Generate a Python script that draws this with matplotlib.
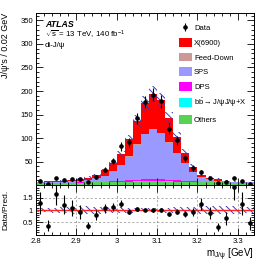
import numpy as np
import matplotlib
matplotlib.use('Agg')
from matplotlib import pyplot as plt
from matplotlib.patches import Patch
from matplotlib.ticker import MultipleLocator, FuncFormatter

plt.rcParams['font.family'] = ['Liberation Sans', 'DejaVu Sans']
plt.rcParams['mathtext.fontset'] = 'custom'
plt.rcParams['mathtext.rm'] = 'Liberation Sans'
plt.rcParams['mathtext.it'] = 'Liberation Sans:italic'
plt.rcParams['hatch.linewidth'] = 0.7
plt.rcParams['hatch.color'] = '#3a3ab8'

# bin centres of the J/psi mass histogram (0.02 GeV bins)
mass = np.array([2.81, 2.83, 2.85, 2.87, 2.89, 2.91, 2.93, 2.95, 2.97, 2.99,
                 3.01, 3.03, 3.05, 3.07, 3.09, 3.11, 3.13, 3.15, 3.17, 3.19,
                 3.21, 3.23, 3.25, 3.27, 3.29, 3.31, 3.33])
data = np.array([9, 3, 14, 11, 12, 12, 6, 17, 33, 51,
                 82, 91, 142, 177, 192, 178, 120, 95, 57, 36,
                 27, 14, 4, 6, 14, 8, 3])
others = np.array([5, 5, 5, 5, 5, 5, 5.5, 5.5, 6, 6,
                   6.5, 7, 7.5, 8, 8, 8, 7.5, 7, 7, 6.5,
                   6, 6, 5.5, 5.5, 5, 5, 5])
bb = np.array([0.1, 0.1, 0.1, 0.1, 0.1, 0.1, 0.1, 0.1, 0.1, 0.1,
               0.1, 0.1, 0.1, 0.1, 0.1, 0.1, 0.1, 0.1, 0.1, 0.1,
               0.1, 0.1, 0.1, 0.1, 0.1, 0.1, 0.1])
dps = np.array([0.2, 0.2, 0.2, 0.3, 0.3, 0.4, 0.5, 0.7, 1.0, 1.5,
                2.2, 3.0, 3.8, 4.5, 4.8, 4.5, 3.8, 3.0, 2.2, 1.5,
                1.0, 0.6, 0.4, 0.3, 0.2, 0.2, 0.2])
sps = np.array([0.9, 1.2, 1.5, 1.8, 3.1, 4.0, 5.4, 7.7, 12.9, 21.4,
                32.2, 49.9, 74.6, 95.4, 105.1, 97.4, 78.6, 57.9, 36.7, 19.9,
                9.9, 5.3, 3.5, 1.6, 1.0, 0.4, 0.3])
feed_down = np.array([0.05, 0.05, 0.05, 0.05, 0.1, 0.1, 0.15, 0.2, 0.3, 0.45,
                      0.65, 0.95, 1.3, 1.6, 1.7, 1.6, 1.3, 1.0, 0.7, 0.45,
                      0.3, 0.2, 0.15, 0.1, 0.1, 0.05, 0.05])
x6900 = np.array([0.8, 1.4, 1.6, 1.8, 2.4, 3.4, 4.4, 6.8, 10.7, 16.6,
                  23.4, 36.0, 48.7, 64.4, 74.3, 68.4, 50.7, 33.0, 21.3, 10.6,
                  4.7, 3.8, 2.4, 1.4, 0.9, 0.6, 0.8])
rel_unc = np.array([0.07, 0.08, 0.10, 0.12, 0.14, 0.15, 0.15, 0.14, 0.13, 0.12,
                    0.11, 0.10, 0.09, 0.09, 0.09, 0.09, 0.10, 0.11, 0.12, 0.14,
                    0.15, 0.16, 0.17, 0.17, 0.16, 0.14, 0.12])

edges = np.append(mass - 0.01, mass[-1] + 0.01)


def step(v):
    return np.append(v, v[-1])


fig = plt.figure('Graphic', figsize=(2.74, 2.64), dpi=100)
ax = fig.add_axes([0.131, 0.299, 0.796, 0.652])
rax = fig.add_axes([0.131, 0.110, 0.796, 0.189], sharex=ax)

components = [(others, '#57d257', 'Others'),
              (bb, '#00ffff', r'$\mathrm{b\bar{b}}$$\rightarrow$J/ψJ/ψ+X'),
              (dps, '#ff00ff', 'DPS'),
              (sps, '#9999ff', 'SPS'),
              (feed_down, '#cc9999', 'Feed-Down'),
              (x6900, '#ff0000', 'X(6900)')]

base = np.zeros(len(mass))
for vals, col, lab in components:
    ax.fill_between(edges, step(base), step(base + vals), step='post',
                    facecolor=col, linewidth=0)
    base = base + vals
total = base

hatch = '\\\\\\\\\\'
ax.fill_between(edges, step(total * (1 - rel_unc)), step(total * (1 + rel_unc)),
                step='post', facecolor='none', edgecolor='#3a3ab8', hatch=hatch,
                linewidth=0)

h_data = ax.errorbar(mass, data, yerr=np.sqrt(data), fmt='o', color='black',
                     markersize=2.3, elinewidth=0.8, capsize=0)

# ratio panel
ratio = data / total
rax.grid(True, linestyle=(0, (3, 3)), color='#888888', linewidth=0.5)
rax.fill_between(edges, step(1 - rel_unc), step(1 + rel_unc), step='post',
                 facecolor='none', edgecolor='#3a3ab8', hatch=hatch, linewidth=0)
rax.axhline(1, color='#ff2020', linewidth=1.0)
rax.errorbar(mass, ratio, yerr=np.sqrt(data) / total, fmt='o', color='black',
             markersize=2.3, elinewidth=0.8, capsize=0)

for a in (ax, rax):
    a.tick_params(which='both', direction='in', top=True, right=True, width=0.6,
                  labelsize=5.5, pad=2)
    a.tick_params(which='major', length=5)
    a.tick_params(which='minor', length=2.5)
    a.xaxis.set_major_locator(MultipleLocator(0.1))
    a.xaxis.set_minor_locator(MultipleLocator(0.02))
    for s in a.spines.values():
        s.set_linewidth(0.7)

ax.set_xlim(2.8, 3.34)
ax.set_ylim(0, 366)
ax.set_yticks([50, 100, 150, 200, 250, 300, 350])
ax.yaxis.set_minor_locator(MultipleLocator(10))
ax.tick_params(labelbottom=False)

rax.set_ylim(0, 2)
rax.set_yticks([0.5, 1, 1.5])
rax.yaxis.set_minor_locator(MultipleLocator(0.1))
fmt = FuncFormatter(lambda v, p: '%g' % round(v, 2))
rax.xaxis.set_major_formatter(fmt)
rax.yaxis.set_major_formatter(fmt)

ax.set_ylabel("J/ψ's / 0.02 GeV", fontsize=6.5, loc='top')
ax.yaxis.set_label_coords(-0.12, 1.0)
rax.set_ylabel('Data/Pred.', fontsize=6)
rax.yaxis.set_label_coords(-0.12, 0.5)
rax.set_xlabel(r'm$_{\mathrm{J/\psi}}$ [GeV]', fontsize=7, loc='right', labelpad=1)

ax.text(0.041, 0.919, 'ATLAS', transform=ax.transAxes, fontsize=6.3,
        fontweight='bold', fontstyle='italic', va='baseline')
ax.text(0.041, 0.855, r'$\sqrt{\mathrm{s}}$ = 13 TeV, 140 fb$^{-1}$', transform=ax.transAxes,
        fontsize=5.7, va='baseline')
ax.text(0.041, 0.800, 'di-J/ψ', transform=ax.transAxes, fontsize=5.7, va='baseline')

handles = [h_data] + [Patch(facecolor=c, edgecolor='none') for v, c, l in components[::-1]]
labels = ['Data'] + [l for v, c, l in components[::-1]]
ax.legend(handles, labels, loc='upper left', bbox_to_anchor=(0.655, 0.94),
          frameon=False, fontsize=5.5, handlelength=1.7, handleheight=1.4,
          handletextpad=0.3, labelspacing=0.75, borderpad=0, borderaxespad=0)

fig.savefig('out.png', dpi=100)
